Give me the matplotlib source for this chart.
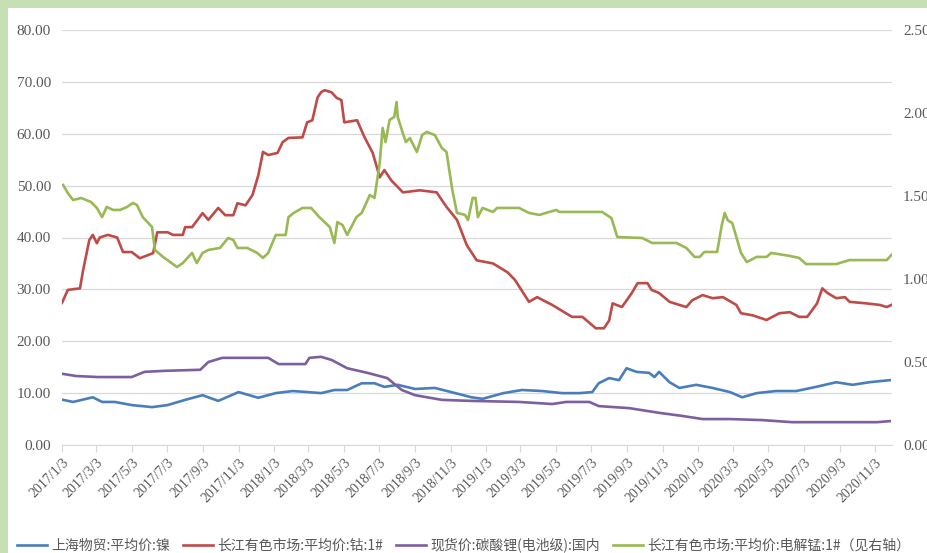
import pandas as pd
import numpy as np
import matplotlib
matplotlib.use('Agg')
import matplotlib.pyplot as plt
from matplotlib.patches import Rectangle

# 上海物贸:平均价:镍
ni_dates = ['2017-01-05', '2017-01-22', '2017-02-25', '2017-03-13', '2017-04-04', '2017-05-03',
            '2017-06-07', '2017-07-04', '2017-08-03', '2017-09-02', '2017-09-29', '2017-11-03',
            '2017-12-07', '2018-01-06', '2018-02-04', '2018-03-02', '2018-03-25', '2018-04-17',
            '2018-05-09', '2018-06-03', '2018-06-25', '2018-07-12', '2018-08-04', '2018-09-03',
            '2018-10-07', '2018-11-11', '2018-12-09', '2018-12-28', '2019-02-02', '2019-03-06',
            '2019-04-10', '2019-05-14', '2019-06-13', '2019-07-05', '2019-07-16', '2019-08-03',
            '2019-08-20', '2019-09-02', '2019-09-19', '2019-10-11', '2019-10-20', '2019-10-28',
            '2019-11-15', '2019-12-02', '2019-12-31', '2020-01-28', '2020-02-27', '2020-03-19',
            '2020-04-13', '2020-05-16', '2020-06-20', '2020-07-24', '2020-08-28', '2020-09-25',
            '2020-10-24', '2020-11-28']
ni_vals = [8.7, 8.3, 9.2, 8.3, 8.3, 7.7,
           7.3, 7.7, 8.7, 9.6, 8.5, 10.2,
           9.1, 10.0, 10.4, 10.2, 10.0, 10.6,
           10.6, 11.9, 11.9, 11.2, 11.6, 10.8,
           11.0, 10.0, 9.2, 8.9, 10.0, 10.6,
           10.4, 10.0, 10.0, 10.2, 11.9, 12.9,
           12.5, 14.8, 14.1, 13.9, 13.1, 14.1,
           12.1, 11.0, 11.6, 11.0, 10.2, 9.2,
           10.0, 10.4, 10.4, 11.2, 12.1, 11.6,
           12.1, 12.5]

# 长江有色市场:平均价:钴:1#
co_dates = ['2017-01-03', '2017-01-13', '2017-02-03', '2017-02-08', '2017-02-19', '2017-02-25',
            '2017-03-04', '2017-03-09', '2017-03-23', '2017-04-08', '2017-04-18', '2017-05-03',
            '2017-05-17', '2017-05-31', '2017-06-09', '2017-06-16', '2017-07-04', '2017-07-13',
            '2017-07-30', '2017-08-03', '2017-08-15', '2017-09-02', '2017-09-12', '2017-09-29',
            '2017-10-11', '2017-10-25', '2017-11-01', '2017-11-15', '2017-11-27', '2017-12-07',
            '2017-12-15', '2017-12-24', '2018-01-09', '2018-01-18', '2018-01-28', '2018-02-21',
            '2018-03-01', '2018-03-10', '2018-03-19', '2018-03-25', '2018-03-31', '2018-04-12',
            '2018-04-21', '2018-04-29', '2018-05-04', '2018-05-26', '2018-06-08', '2018-06-22',
            '2018-07-04', '2018-07-12', '2018-07-24', '2018-08-13', '2018-09-11', '2018-10-10',
            '2018-10-27', '2018-11-14', '2018-12-01', '2018-12-18', '2019-01-15', '2019-02-09',
            '2019-02-22', '2019-03-18', '2019-04-01', '2019-04-27', '2019-05-31', '2019-06-18',
            '2019-07-11', '2019-07-25', '2019-08-03', '2019-08-09', '2019-08-25', '2019-09-11',
            '2019-09-21', '2019-10-08', '2019-10-15', '2019-10-28', '2019-11-15', '2019-12-02',
            '2019-12-14', '2019-12-24', '2020-01-11', '2020-01-28', '2020-02-15', '2020-03-09',
            '2020-03-17', '2020-04-06', '2020-04-30', '2020-05-22', '2020-06-09', '2020-06-25',
            '2020-07-09', '2020-07-26', '2020-08-04', '2020-08-13', '2020-08-28', '2020-09-12',
            '2020-09-20', '2020-10-19', '2020-11-11', '2020-11-23', '2020-12-01']
co_vals = [27.4, 29.9, 30.2, 33.5, 39.5, 40.5,
           38.9, 40.0, 40.5, 40.0, 37.2, 37.2,
           36.0, 36.6, 37.0, 41.0, 41.0, 40.5,
           40.5, 42.0, 42.0, 44.7, 43.4, 45.7,
           44.3, 44.3, 46.6, 46.2, 48.2, 52.0,
           56.5, 55.9, 56.3, 58.4, 59.2, 59.3,
           62.2, 62.6, 67.0, 68.0, 68.4, 68.0,
           66.9, 66.5, 62.2, 62.6, 59.3, 56.3,
           51.6, 53.0, 51.0, 48.7, 49.1, 48.7,
           45.9, 43.4, 38.5, 35.6, 35.0, 33.3,
           31.8, 27.6, 28.5, 27.0, 24.7, 24.7,
           22.5, 22.5, 24.0, 27.3, 26.6, 29.3,
           31.2, 31.2, 29.9, 29.3, 27.6, 27.0,
           26.6, 27.9, 28.9, 28.3, 28.5, 27.0,
           25.4, 25.0, 24.1, 25.4, 25.6, 24.7,
           24.7, 27.3, 30.2, 29.3, 28.3, 28.5,
           27.6, 27.3, 27.0, 26.6, 27.0]

# 现货价:碳酸锂(电池级):国内
li_dates = ['2017-01-05', '2017-01-27', '2017-03-06', '2017-05-03', '2017-05-25', '2017-06-29',
            '2017-08-29', '2017-09-12', '2017-10-06', '2017-12-24', '2018-01-11', '2018-02-26',
            '2018-03-05', '2018-03-25', '2018-04-12', '2018-05-09', '2018-06-13', '2018-07-17',
            '2018-08-11', '2018-09-03', '2018-10-19', '2018-12-09', '2019-03-01', '2019-04-27',
            '2019-05-21', '2019-06-30', '2019-07-16', '2019-09-07', '2019-10-28', '2019-12-07',
            '2020-01-11', '2020-02-27', '2020-04-23', '2020-06-13', '2020-11-06', '2020-11-28']
li_vals = [13.7, 13.3, 13.1, 13.1, 14.1, 14.3,
           14.5, 16.0, 16.8, 16.8, 15.6, 15.6,
           16.8, 17.0, 16.4, 14.8, 13.9, 12.9,
           10.6, 9.6, 8.7, 8.5, 8.3, 7.9,
           8.3, 8.3, 7.5, 7.1, 6.2, 5.6,
           5.0, 5.0, 4.8, 4.4, 4.4, 4.6]

# 长江有色市场:平均价:电解锰:1# (右轴)
mn_dates = ['2017-01-05', '2017-01-13', '2017-01-22', '2017-02-05', '2017-02-22', '2017-03-04',
            '2017-03-13', '2017-03-21', '2017-04-01', '2017-04-13', '2017-04-25', '2017-05-05',
            '2017-05-12', '2017-05-22', '2017-06-07', '2017-06-12', '2017-06-26', '2017-07-20',
            '2017-07-30', '2017-08-15', '2017-08-23', '2017-09-02', '2017-09-12', '2017-10-02',
            '2017-10-16', '2017-10-25', '2017-11-01', '2017-11-18', '2017-12-05', '2017-12-15',
            '2017-12-24', '2018-01-06', '2018-01-23', '2018-01-28', '2018-02-06', '2018-02-21',
            '2018-03-08', '2018-03-22', '2018-04-09', '2018-04-17', '2018-04-22', '2018-05-01',
            '2018-05-09', '2018-05-16', '2018-05-25', '2018-06-03', '2018-06-17', '2018-06-25',
            '2018-07-04', '2018-07-09', '2018-07-14', '2018-07-21', '2018-07-29', '2018-08-02',
            '2018-08-04', '2018-08-11', '2018-08-18', '2018-08-25', '2018-09-06', '2018-09-15',
            '2018-09-23', '2018-10-07', '2018-10-19', '2018-10-27', '2018-11-06', '2018-11-14',
            '2018-11-28', '2018-12-03', '2018-12-11', '2018-12-16', '2018-12-20', '2018-12-28',
            '2019-01-15', '2019-01-22', '2019-03-01', '2019-03-18', '2019-04-05', '2019-04-22',
            '2019-05-04', '2019-05-09', '2019-07-22', '2019-08-07', '2019-08-17', '2019-09-29',
            '2019-10-16', '2019-11-27', '2019-12-14', '2019-12-28', '2020-01-06', '2020-01-14',
            '2020-02-05', '2020-02-13', '2020-02-18', '2020-02-23', '2020-03-02', '2020-03-17',
            '2020-03-27', '2020-04-13', '2020-04-30', '2020-05-08', '2020-06-09', '2020-06-25',
            '2020-07-07', '2020-08-28', '2020-09-20', '2020-11-23', '2020-12-01']
mn_vals = [1.566, 1.518, 1.476, 1.488, 1.464, 1.428,
           1.373, 1.434, 1.416, 1.416, 1.434, 1.458,
           1.446, 1.373, 1.313, 1.175, 1.133, 1.072,
           1.096, 1.157, 1.096, 1.157, 1.175, 1.187,
           1.247, 1.235, 1.187, 1.187, 1.157, 1.127,
           1.157, 1.265, 1.265, 1.373, 1.398, 1.428,
           1.428, 1.373, 1.313, 1.217, 1.343, 1.325,
           1.265, 1.313, 1.373, 1.398, 1.506, 1.488,
           1.699, 1.910, 1.825, 1.958, 1.976, 2.066,
           1.976, 1.898, 1.825, 1.849, 1.765, 1.867,
           1.886, 1.867, 1.789, 1.765, 1.536, 1.398,
           1.386, 1.355, 1.488, 1.488, 1.373, 1.428,
           1.404, 1.428, 1.428, 1.398, 1.386, 1.404,
           1.416, 1.404, 1.404, 1.367, 1.253, 1.247,
           1.217, 1.217, 1.187, 1.133, 1.133, 1.163,
           1.163, 1.325, 1.398, 1.355, 1.337, 1.157,
           1.102, 1.133, 1.133, 1.157, 1.139, 1.127,
           1.090, 1.090, 1.114, 1.114, 1.145]

tick_dates = pd.date_range('2017-01-01', '2020-11-01', freq='2MS') + pd.Timedelta(days=2)
tick_labels = [f'{d.year}/{d.month}/{d.day}' for d in tick_dates]

legend_labels = ['上海物贸:平均价:镍', '长江有色市场:平均价:钴:1#',
                 '现货价:碳酸锂(电池级):国内', '长江有色市场:平均价:电解锰:1#（见右轴）']
colors = ['#4a7ebb', '#be4b48', '#7d5fa0', '#98b954']

plt.rcParams['font.family'] = ['Liberation Serif', 'Noto Sans CJK SC', 'DejaVu Sans']

fig = plt.figure(figsize=(9.27, 5.53), dpi=100)
fig.patch.set_facecolor('#c6e0b4')
# white card inside the green frame
fig.patches.append(Rectangle((8 / 927, 0), 1, 1 - 8 / 553, transform=fig.transFigure,
                             facecolor='white', edgecolor='none', zorder=-1))

ax = fig.add_axes([62 / 927, 1 - 445 / 553, (892 - 62) / 927, (445 - 30) / 553])
ax.set_facecolor('none')
ax2 = ax.twinx()

lines = []
for d, v, c in [(ni_dates, ni_vals, colors[0]), (co_dates, co_vals, colors[1]), (li_dates, li_vals, colors[2])]:
    ln, = ax.plot(pd.to_datetime(d), v, color=c, lw=1.9)
    lines.append(ln)
ln, = ax2.plot(pd.to_datetime(mn_dates), mn_vals, color=colors[3], lw=1.9)
lines.append(ln)

ax.set_xlim(pd.Timestamp('2017-01-03'), pd.Timestamp('2020-12-02'))
ax.set_ylim(0, 80)
ax2.set_ylim(0, 2.5)
ax.set_yticks(np.arange(0, 81, 10))
ax.set_yticklabels([f'{v:.2f}' for v in np.arange(0, 81, 10)])
ax2.set_yticks(np.arange(0, 2.51, 0.5))
ax2.set_yticklabels([f'{v:.2f}' for v in np.arange(0, 2.51, 0.5)])
ax.grid(axis='y', color='#d9d9d9', lw=0.9)
ax.set_axisbelow(True)

ax.set_xticks(tick_dates)
ax.set_xticklabels(tick_labels, rotation=45, ha='right', rotation_mode='anchor')

for a in (ax, ax2):
    for s in a.spines.values():
        s.set_visible(False)
ax.spines['bottom'].set_visible(True)
ax.spines['bottom'].set_color('#d9d9d9')
ax.tick_params(axis='x', colors='#d9d9d9', length=5, labelcolor='#595959', labelsize=10, pad=3)
ax.tick_params(axis='y', length=0, labelcolor='#595959', labelsize=11, pad=8)
ax2.tick_params(axis='y', length=0, labelcolor='#595959', labelsize=11, pad=8)

fig.legend(lines, legend_labels, loc='center', bbox_to_anchor=(0.5, 1 - 545 / 553),
           ncol=4, frameon=False, handlelength=2.2, handletextpad=0.3,
           columnspacing=0.9, prop={'family': ['Noto Sans CJK SC', 'DejaVu Sans'], 'size': 10},
           labelcolor='#595959')

fig.savefig('out.png', dpi=100, facecolor=fig.get_facecolor())
